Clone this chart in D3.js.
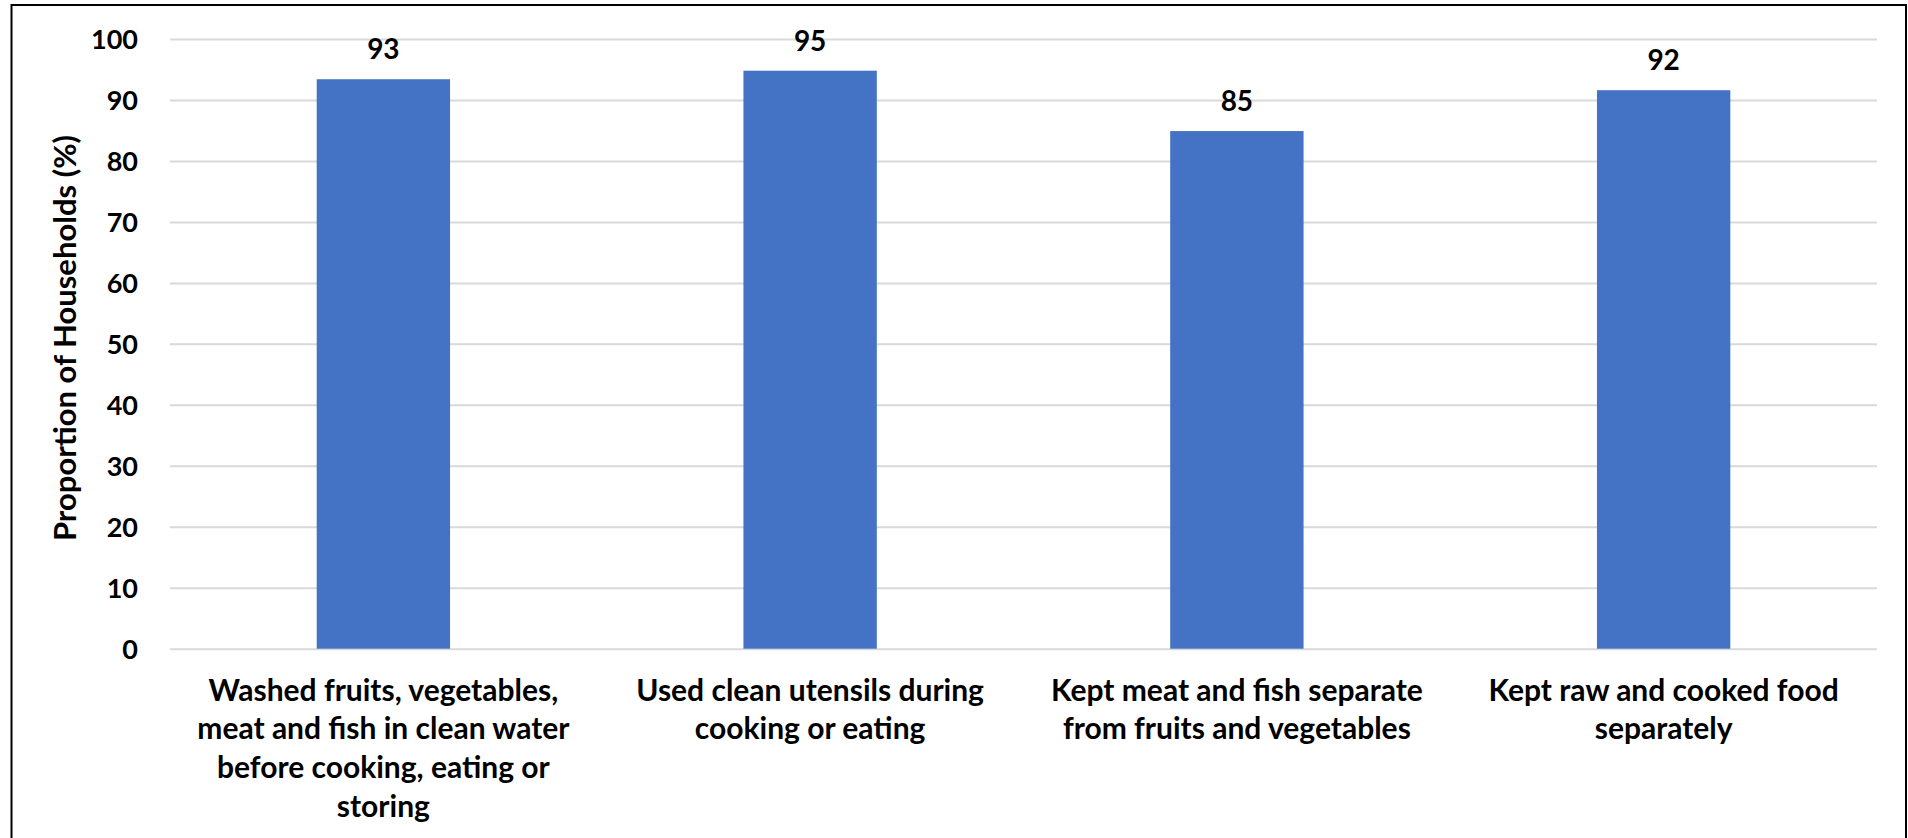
<!DOCTYPE html>
<html>
<head>
<meta charset="utf-8">
<script src="https://cdn.jsdelivr.net/npm/d3@7"></script>
<style>
  html, body { margin: 0; padding: 0; background: #fff; }
  svg { display: block; }
  text { font-family: Lato, "Open Sans", sans-serif; font-weight: 700; fill: #000; }
</style>
</head>
<body>
<svg id="chart" width="1908" height="838"></svg>
<script>
// ---- data ----
const categoryLines = [
  ["Washed fruits, vegetables,", "meat and fish in clean water", "before cooking, eating or", "storing"],
  ["Used clean utensils during", "cooking or eating"],
  ["Kept meat and fish separate", "from fruits and vegetables"],
  ["Kept raw and cooked food", "separately"]
];
const categories = categoryLines.map(l => l.join(" "));
const values = [93.4, 94.8, 84.9, 91.6];
const valueLabels = ["93", "95", "85", "92"];
const yTicks = [0, 10, 20, 30, 40, 50, 60, 70, 80, 90, 100];
const yTitle = "Proportion of Households (%)";

// ---- layout ----
const svg = d3.select("#chart");
const plot = { left: 170, right: 1877, top: 39, bottom: 648.7 };

const x = d3.scaleBand()
  .domain(categories)
  .range([plot.left, plot.right])
  .paddingInner(0.6875)
  .paddingOuter(0.34375);

const y = d3.scaleLinear().domain([0, 100]).range([plot.bottom, plot.top]);

// border
svg.append("rect")
  .attr("x", 11.5).attr("y", 5)
  .attr("width", 1894.5).attr("height", 850)
  .attr("fill", "none").attr("stroke", "#000").attr("stroke-width", 2);

// gridlines + tick labels via axis
const yAxis = d3.axisLeft(y).tickValues(yTicks).tickSize(-(plot.right - plot.left)).tickPadding(32);
const gy = svg.append("g").attr("transform", `translate(${plot.left},0)`).call(yAxis);
gy.select(".domain").remove();
gy.selectAll(".tick line").attr("stroke", "#D9D9D9").attr("stroke-width", 2);
gy.selectAll(".tick text")
  .attr("font-size", 27)
  .attr("font-family", "Lato, 'Open Sans', sans-serif")
  .attr("font-weight", 700)
  .attr("fill", "#000")
  .attr("dy", "0.36em");

// bars
svg.append("g").selectAll("rect")
  .data(values)
  .join("rect")
  .attr("x", (d, i) => x(categories[i]))
  .attr("width", x.bandwidth())
  .attr("y", d => y(d))
  .attr("height", d => y(0) - y(d))
  .attr("fill", "#4472C4");

// value labels
svg.append("g").selectAll("text")
  .data(values)
  .join("text")
  .attr("x", (d, i) => x(categories[i]) + x.bandwidth() / 2)
  .attr("y", d => y(d) - 20)
  .attr("text-anchor", "middle")
  .attr("font-size", 28)
  .text((d, i) => valueLabels[i]);

// category labels
const cg = svg.append("g");
categoryLines.forEach((lines, i) => {
  const t = cg.append("text")
    .attr("x", x(categories[i]) + x.bandwidth() / 2)
    .attr("y", y(0) + 52)
    .attr("text-anchor", "middle")
    .attr("font-size", 30);
  lines.forEach((ln, j) => {
    t.append("tspan")
      .attr("x", x(categories[i]) + x.bandwidth() / 2)
      .attr("dy", j === 0 ? 0 : 38.7)
      .text(ln);
  });
});

// y title
svg.append("text")
  .attr("transform", `translate(76,338) rotate(-90)`)
  .attr("text-anchor", "middle")
  .attr("font-size", 31)
  .text(yTitle);
</script>
</body>
</html>
